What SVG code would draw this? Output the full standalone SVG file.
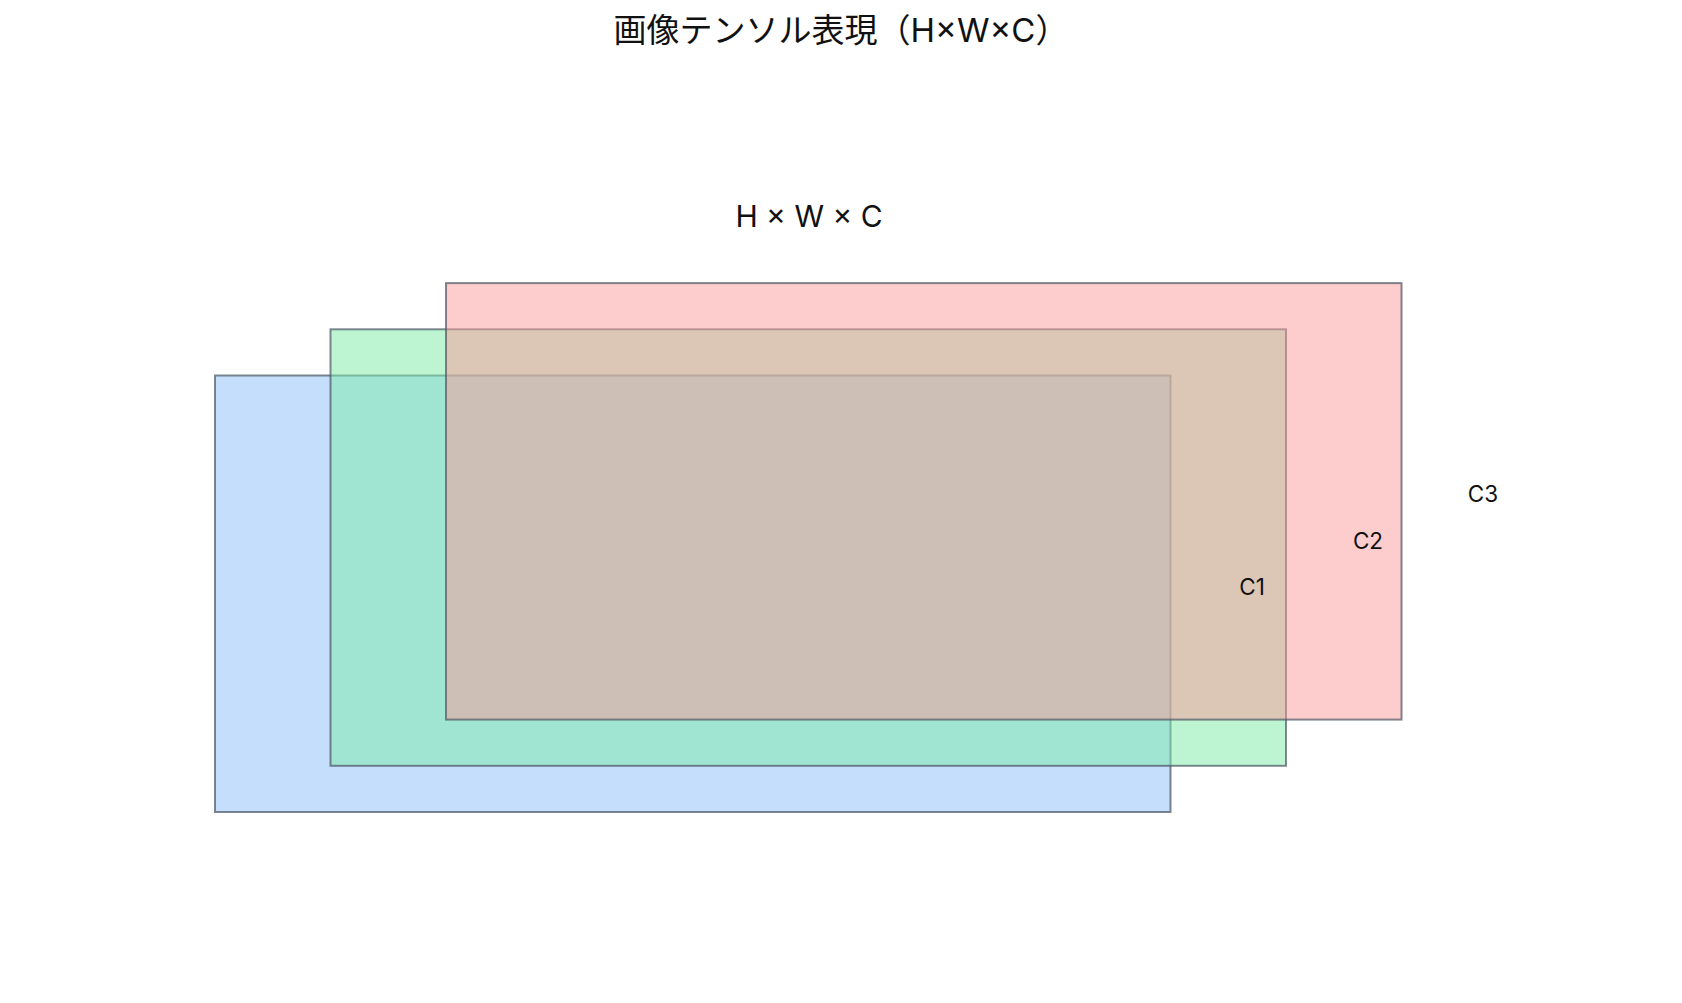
<svg xmlns="http://www.w3.org/2000/svg" width="1682" height="1003" viewBox="0 0 1682 1003">
<style>
.t{font-family:Inter,"Noto Sans CJK JP",sans-serif;fill:#111;text-anchor:middle}
.title{font-size:33px}
.sub{font-size:30px}
.lab{font-size:22.5px}
.ch{stroke:#4b5563;stroke-opacity:0.7;stroke-width:2}
</style>
<rect width="1682" height="1003" fill="#ffffff"/>
<text class="t title" x="841" y="42">画像テンソル表現（H×W×C）</text>
<text class="t sub" x="809" y="227">H × W × C</text>
<g id="channel-c1">
<rect class="ch" x="215" y="375.5" width="955.5" height="436.5" fill="#89bdf7" fill-opacity="0.5"/>
</g>
<g id="channel-c2">
<rect class="ch" x="330.5" y="329.3" width="955.5" height="436.5" fill="#7beba7" fill-opacity="0.5"/>
</g>
<g id="channel-c3">
<rect class="ch" x="446" y="283.1" width="955.5" height="436.5" fill="#fb9a9b" fill-opacity="0.5"/>
</g>
<g id="labels">
<text class="t lab" x="1252" y="595">C1</text>
<text class="t lab" x="1368" y="548.5">C2</text>
<text class="t lab" x="1483" y="502">C3</text>
</g>
<g id="connectors"/>
</svg>
